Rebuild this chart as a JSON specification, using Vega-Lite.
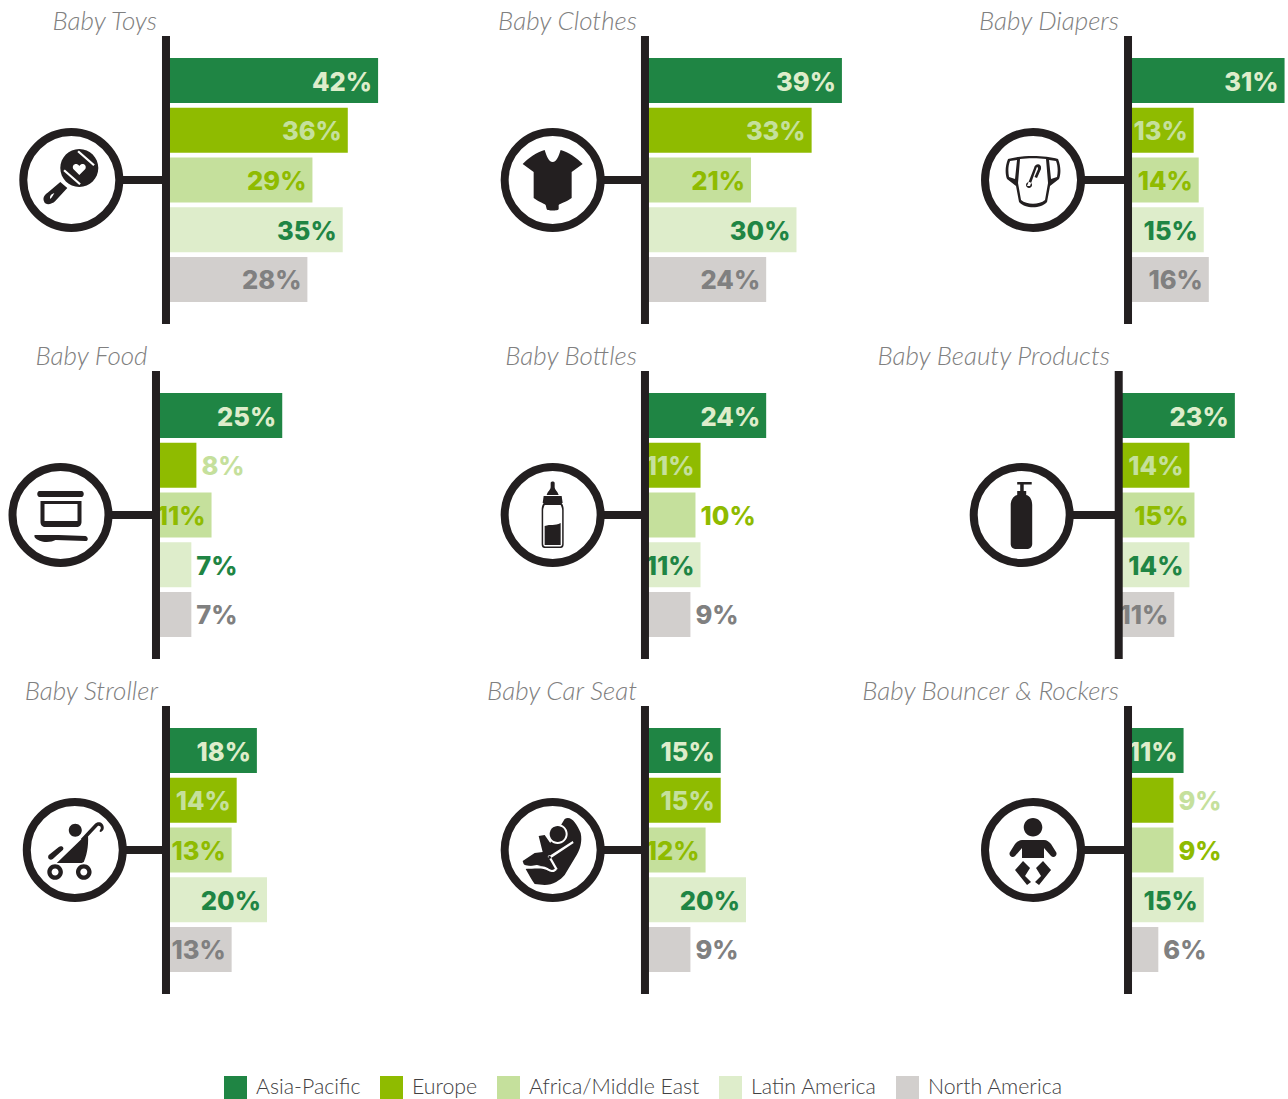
{"$schema":"https://vega.github.io/schema/vega-lite/v6.json","padding":{"left":-4,"top":9,"right":0,"bottom":0},"background":"white","bounds":"flush","align":"each","columns":3,"spacing":{"row":47,"column":0},
"config":{"axis":{"disable":true},"view":{"stroke":null},"scale":{"bandPaddingInner":0.0955,"bandPaddingOuter":0.4423},"range":{"category":["#1f8544","#8fbb00","#c5e09c","#deedcb","#d2cfcd"]},
"title":{"anchor":"start","font":"Lato","fontStyle":"italic","fontWeight":300,"fontSize":26,"color":"#808080","offset":-3},
"legend":{"orient":"none","legendX":224,"legendY":1040,"direction":"horizontal","columns":5,"symbolType":"square","symbolSize":529,"symbolStrokeWidth":0,"labelFont":"Lato","labelFontWeight":300,"labelFontSize":21.3,"labelColor":"#414042","labelOffset":9,"columnPadding":19,"labelLimit":300},
"style":{"lin":{"font":"Inter","fontWeight":800,"fontSize":25.5,"align":"right","dx":-6,"dy":2,"baseline":"middle"},"lout":{"font":"Inter","fontWeight":800,"fontSize":25.5,"align":"left","dx":5,"dy":2,"baseline":"middle"}}},
"data":{"values":[
{"product":"Baby Toys","region":"Asia-Pacific","value":0.42},{"product":"Baby Toys","region":"Europe","value":0.36},{"product":"Baby Toys","region":"Africa/Middle East","value":0.29},{"product":"Baby Toys","region":"Latin America","value":0.35},{"product":"Baby Toys","region":"North America","value":0.28},
{"product":"Baby Clothes","region":"Asia-Pacific","value":0.39},{"product":"Baby Clothes","region":"Europe","value":0.33},{"product":"Baby Clothes","region":"Africa/Middle East","value":0.21},{"product":"Baby Clothes","region":"Latin America","value":0.30},{"product":"Baby Clothes","region":"North America","value":0.24},
{"product":"Baby Diapers","region":"Asia-Pacific","value":0.31},{"product":"Baby Diapers","region":"Europe","value":0.13},{"product":"Baby Diapers","region":"Africa/Middle East","value":0.14},{"product":"Baby Diapers","region":"Latin America","value":0.15},{"product":"Baby Diapers","region":"North America","value":0.16},
{"product":"Baby Food","region":"Asia-Pacific","value":0.25},{"product":"Baby Food","region":"Europe","value":0.08},{"product":"Baby Food","region":"Africa/Middle East","value":0.11},{"product":"Baby Food","region":"Latin America","value":0.07},{"product":"Baby Food","region":"North America","value":0.07},
{"product":"Baby Bottles","region":"Asia-Pacific","value":0.24},{"product":"Baby Bottles","region":"Europe","value":0.11},{"product":"Baby Bottles","region":"Africa/Middle East","value":0.10},{"product":"Baby Bottles","region":"Latin America","value":0.11},{"product":"Baby Bottles","region":"North America","value":0.09},
{"product":"Baby Beauty Products","region":"Asia-Pacific","value":0.23},{"product":"Baby Beauty Products","region":"Europe","value":0.14},{"product":"Baby Beauty Products","region":"Africa/Middle East","value":0.15},{"product":"Baby Beauty Products","region":"Latin America","value":0.14},{"product":"Baby Beauty Products","region":"North America","value":0.11},
{"product":"Baby Stroller","region":"Asia-Pacific","value":0.18},{"product":"Baby Stroller","region":"Europe","value":0.14},{"product":"Baby Stroller","region":"Africa/Middle East","value":0.13},{"product":"Baby Stroller","region":"Latin America","value":0.20},{"product":"Baby Stroller","region":"North America","value":0.13},
{"product":"Baby Car Seat","region":"Asia-Pacific","value":0.15},{"product":"Baby Car Seat","region":"Europe","value":0.15},{"product":"Baby Car Seat","region":"Africa/Middle East","value":0.12},{"product":"Baby Car Seat","region":"Latin America","value":0.20},{"product":"Baby Car Seat","region":"North America","value":0.09},
{"product":"Baby Bouncer & Rockers","region":"Asia-Pacific","value":0.11},{"product":"Baby Bouncer & Rockers","region":"Europe","value":0.09},{"product":"Baby Bouncer & Rockers","region":"Africa/Middle East","value":0.09},{"product":"Baby Bouncer & Rockers","region":"Latin America","value":0.15},{"product":"Baby Bouncer & Rockers","region":"North America","value":0.06}
]},
"concat":[
{"title":{"text":"Baby Toys","dx":157,"align":"right"},"width":430,"height":288,"transform":[{"filter":"datum.product==='Baby Toys'"}],"layer":[
{"encoding":{"y":{"field":"region","type":"nominal","scale":{"domain":["Asia-Pacific","Europe","Africa/Middle East","Latin America","North America"]}}},"layer":[
{"transform":[{"filter":"datum.region==='Africa/Middle East'"}],"encoding":{"x":{"datum":-0.1875,"type":"quantitative"}},"layer":[
{"mark":{"type":"rule","color":"#231f20","strokeWidth":8},"encoding":{"x2":{"datum":0}}},
{"mark":{"type":"point","filled":true,"fill":"#fff","stroke":"#231f20","strokeWidth":8,"size":9216,"opacity":1}},
{"mark":{"type":"point","filled":true,"color":"#231f20","size":4,"opacity":1,"shape":"M-11,-12 a19,19 0 1,0 38,0 a19,19 0 1,0 -38,0 Z M-11,2 L-4,8 L-16,21 C-20,25 -26,25 -27,22 C-29,18 -27,15 -24,13 Z"}},
{"mark":{"type":"point","filled":true,"color":"#fff","size":4,"opacity":1,"shape":"M-8,-9 L8,5 L9.5,3.5 L-6.5,-10.5Z M6,-28 L22,-14 L23.5,-15.5 L7.5,-29.5Z M8,-5 L2,-11 C0,-15 5,-18 8,-14 C11,-18 16,-15 14,-11 Z M-21,19 C-22,16 -20,14 -17,13 C-18,15 -19,17 -21,19Z"}}]},
{"mark":"bar","encoding":{"x":{"field":"value","type":"quantitative","scale":{"domain":[-0.3287,0.5228],"nice":false}},"color":{"field":"region","type":"nominal","scale":{"domain":["Asia-Pacific","Europe","Africa/Middle East","Latin America","North America"]},"legend":{"title":null}}}},
{"transform":[{"filter":"datum.value>0.1"}],"mark":{"type":"text","style":"lin"},"encoding":{"x":{"field":"value","type":"quantitative"},"text":{"field":"value","type":"quantitative","format":".0%"},"fill":{"field":"region","type":"nominal","legend":null,"scale":{"domain":["Asia-Pacific","Europe","Africa/Middle East","Latin America","North America"],"range":["#deedcb","#c5e09c","#8fbb00","#1f8544","#808080"]}}}},
{"transform":[{"filter":"datum.value<=0.1"}],"mark":{"type":"text","style":"lout"},"encoding":{"x":{"field":"value","type":"quantitative"},"text":{"field":"value","type":"quantitative","format":".0%"},"fill":{"field":"region","type":"nominal","legend":null}}}]},
{"transform":[{"filter":"datum.region==='Europe'"}],"mark":{"type":"rule","color":"#231f20","strokeWidth":8},"encoding":{"x":{"datum":0,"type":"quantitative"}}}]},

{"title":{"text":"Baby Clothes","dx":207,"align":"right"},"width":470,"height":288,"transform":[{"filter":"datum.product==='Baby Clothes'"}],"layer":[
{"encoding":{"y":{"field":"region","type":"nominal","scale":{"domain":["Asia-Pacific","Europe","Africa/Middle East","Latin America","North America"]}}},"layer":[
{"transform":[{"filter":"datum.region==='Africa/Middle East'"}],"encoding":{"x":{"datum":-0.1828,"type":"quantitative"}},"layer":[
{"mark":{"type":"rule","color":"#231f20","strokeWidth":8},"encoding":{"x2":{"datum":0}}},
{"mark":{"type":"point","filled":true,"fill":"#fff","stroke":"#231f20","strokeWidth":8,"size":9216,"opacity":1}},
{"mark":{"type":"point","filled":true,"color":"#231f20","size":4,"opacity":1,"shape":"M-8,-30 C-6,-24 -4,-18 0,-18 C4,-18 6,-24 8,-30 C16,-28 24,-22 30,-16 L19,-8 L19,18 C14,22 8,23 6,25 L6,29 C6,31 -6,31 -6,29 L-7,25 C-9,23 -14,22 -19,18 L-19,-8 L-30,-16 C-24,-22 -16,-28 -8,-30Z"}}]},
{"mark":"bar","encoding":{"x":{"field":"value","type":"quantitative","scale":{"domain":[-0.4257,0.505],"nice":false}},"color":{"field":"region","type":"nominal"}}},
{"transform":[{"filter":"datum.value>0.1"}],"mark":{"type":"text","style":"lin"},"encoding":{"x":{"field":"value","type":"quantitative"},"text":{"field":"value","type":"quantitative","format":".0%"},"fill":{"field":"region","type":"nominal","legend":null}}},
{"transform":[{"filter":"datum.value<=0.1"}],"mark":{"type":"text","style":"lout"},"encoding":{"x":{"field":"value","type":"quantitative"},"text":{"field":"value","type":"quantitative","format":".0%"},"fill":{"field":"region","type":"nominal","legend":null}}}]},
{"transform":[{"filter":"datum.region==='Europe'"}],"mark":{"type":"rule","color":"#231f20","strokeWidth":8},"encoding":{"x":{"datum":0,"type":"quantitative"}}}]},

{"title":{"text":"Baby Diapers","dx":219,"align":"right"},"width":388,"height":288,"transform":[{"filter":"datum.product==='Baby Diapers'"}],"layer":[
{"encoding":{"y":{"field":"region","type":"nominal","scale":{"domain":["Asia-Pacific","Europe","Africa/Middle East","Latin America","North America"]}}},"layer":[
{"transform":[{"filter":"datum.region==='Africa/Middle East'"}],"encoding":{"x":{"datum":-0.1881,"type":"quantitative"}},"layer":[
{"mark":{"type":"rule","color":"#231f20","strokeWidth":8},"encoding":{"x2":{"datum":0}}},
{"mark":{"type":"point","filled":true,"fill":"#fff","stroke":"#231f20","strokeWidth":8,"size":9216,"opacity":1}},
{"mark":{"type":"point","filled":true,"color":"#231f20","size":4,"opacity":1,"shape":"M-25,-21 C-12,-25 12,-25 25,-21 C28,-14 28,-6 26,-1 L17,6 L14,22 C8,29 -8,29 -14,22 L-17,6 L-26,-1 C-28,-6 -28,-14 -25,-21Z"}},
{"mark":{"type":"point","filled":true,"color":"#fff","size":4,"opacity":1,"shape":"M-23,-19 L-16,-20 L-18,-1 L-24,-3 C-25,-8 -25,-14 -23,-19Z M23,-19 L16,-20 L18,-1 L24,-3 C25,-8 25,-14 23,-19Z M-13,-21 C-5,-22 5,-22 13,-21 L15,3 L12,20 C6,25 -6,25 -12,20 L-15,3Z"}},
{"mark":{"type":"point","filled":true,"color":"#231f20","size":4,"opacity":1,"shape":"M-6,6 L1,-12 C2,-17 9,-17 8,-11 L4,-2 L1.5,-3 L5,-11 C5,-13 4,-14 3.5,-12 L-3,6Z M-7,5 a3,3 0 1,0 6,0 a3,3 0 1,0 -6,0Z"}}]},
{"mark":"bar","encoding":{"x":{"field":"value","type":"quantitative","scale":{"domain":[-0.4515,0.3168],"nice":false}},"color":{"field":"region","type":"nominal"}}},
{"transform":[{"filter":"datum.value>0.1"}],"mark":{"type":"text","style":"lin"},"encoding":{"x":{"field":"value","type":"quantitative"},"text":{"field":"value","type":"quantitative","format":".0%"},"fill":{"field":"region","type":"nominal","legend":null}}},
{"transform":[{"filter":"datum.value<=0.1"}],"mark":{"type":"text","style":"lout"},"encoding":{"x":{"field":"value","type":"quantitative"},"text":{"field":"value","type":"quantitative","format":".0%"},"fill":{"field":"region","type":"nominal","legend":null}}}]},
{"transform":[{"filter":"datum.region==='Europe'"}],"mark":{"type":"rule","color":"#231f20","strokeWidth":8},"encoding":{"x":{"datum":0,"type":"quantitative"}}}]},

{"title":{"text":"Baby Food","dx":151,"align":"right"},"width":430,"height":288,"transform":[{"filter":"datum.product==='Baby Food'"}],"layer":[
{"encoding":{"y":{"field":"region","type":"nominal","scale":{"domain":["Asia-Pacific","Europe","Africa/Middle East","Latin America","North America"]}}},"layer":[
{"transform":[{"filter":"datum.region==='Africa/Middle East'"}],"encoding":{"x":{"datum":-0.1891,"type":"quantitative"}},"layer":[
{"mark":{"type":"rule","color":"#231f20","strokeWidth":8},"encoding":{"x2":{"datum":0}}},
{"mark":{"type":"point","filled":true,"fill":"#fff","stroke":"#231f20","strokeWidth":8,"size":9216,"opacity":1}},
{"mark":{"type":"point","filled":true,"color":"#231f20","size":4,"opacity":1,"shape":"M-21,-24 L21,-24 C24,-24 24,-18 21,-18 L-21,-18 C-24,-18 -24,-24 -21,-24Z M-20,-14 L21,-14 L21,7 C21,10 19,12 16,12 L-15,12 C-18,12 -20,10 -20,7Z M-26,20 C-20,20 -10,20 -2,20 L25,21 C28,22 28,26 25,26 L-5,25 C-10,28 -22,28 -26,22Z"}},
{"mark":{"type":"point","filled":true,"color":"#fff","size":4,"opacity":1,"shape":"M-16,-11 L17,-11 L17,6 L-16,6Z"}}]},
{"mark":"bar","encoding":{"x":{"field":"value","type":"quantitative","scale":{"domain":[-0.3089,0.5426],"nice":false}},"color":{"field":"region","type":"nominal"}}},
{"transform":[{"filter":"datum.value>0.1"}],"mark":{"type":"text","style":"lin"},"encoding":{"x":{"field":"value","type":"quantitative"},"text":{"field":"value","type":"quantitative","format":".0%"},"fill":{"field":"region","type":"nominal","legend":null}}},
{"transform":[{"filter":"datum.value<=0.1"}],"mark":{"type":"text","style":"lout"},"encoding":{"x":{"field":"value","type":"quantitative"},"text":{"field":"value","type":"quantitative","format":".0%"},"fill":{"field":"region","type":"nominal","legend":null}}}]},
{"transform":[{"filter":"datum.region==='Europe'"}],"mark":{"type":"rule","color":"#231f20","strokeWidth":8},"encoding":{"x":{"datum":0,"type":"quantitative"}}}]},

{"title":{"text":"Baby Bottles","dx":207,"align":"right"},"width":470,"height":288,"transform":[{"filter":"datum.product==='Baby Bottles'"}],"layer":[
{"encoding":{"y":{"field":"region","type":"nominal","scale":{"domain":["Asia-Pacific","Europe","Africa/Middle East","Latin America","North America"]}}},"layer":[
{"transform":[{"filter":"datum.region==='Africa/Middle East'"}],"encoding":{"x":{"datum":-0.1828,"type":"quantitative"}},"layer":[
{"mark":{"type":"rule","color":"#231f20","strokeWidth":8},"encoding":{"x2":{"datum":0}}},
{"mark":{"type":"point","filled":true,"fill":"#fff","stroke":"#231f20","strokeWidth":8,"size":9216,"opacity":1}},
{"mark":{"type":"point","filled":true,"color":"#231f20","size":4,"opacity":1,"shape":"M-2,-32 C-2,-34 2,-34 2,-32 L2,-28 C2,-25 5,-24 6,-20 L-6,-20 C-5,-24 -2,-25 -2,-28Z M-9,-19 L9,-19 L10,-12 L-10,-12Z M-9,-12 L9,-12 C11,-9 11,-7 11,-5 L11,29 C11,33 9,33 7,33 L-7,33 C-9,33 -11,33 -11,29 L-11,-5 C-11,-7 -11,-9 -9,-12Z"}},
{"mark":{"type":"point","filled":true,"color":"#fff","size":4,"opacity":1,"shape":"M-8,-10 L8,-10 C9,-8 9.5,-6 9.5,-5 L9.5,29 C9.5,31 8,31.5 7,31.5 L-7,31.5 C-8,31.5 -9.5,31 -9.5,29 L-9.5,-5 C-9.5,-6 -9,-8 -8,-10Z"}},
{"mark":{"type":"point","filled":true,"color":"#231f20","size":4,"opacity":1,"shape":"M-8,11 C-2,9 2,11 8,8 L8,30 L-8,30Z"}}]},
{"mark":"bar","encoding":{"x":{"field":"value","type":"quantitative","scale":{"domain":[-0.4257,0.505],"nice":false}},"color":{"field":"region","type":"nominal"}}},
{"transform":[{"filter":"datum.value>0.1"}],"mark":{"type":"text","style":"lin"},"encoding":{"x":{"field":"value","type":"quantitative"},"text":{"field":"value","type":"quantitative","format":".0%"},"fill":{"field":"region","type":"nominal","legend":null}}},
{"transform":[{"filter":"datum.value<=0.1"}],"mark":{"type":"text","style":"lout"},"encoding":{"x":{"field":"value","type":"quantitative"},"text":{"field":"value","type":"quantitative","format":".0%"},"fill":{"field":"region","type":"nominal","legend":null}}}]},
{"transform":[{"filter":"datum.region==='Europe'"}],"mark":{"type":"rule","color":"#231f20","strokeWidth":8},"encoding":{"x":{"datum":0,"type":"quantitative"}}}]},

{"title":{"text":"Baby Beauty Products","dx":210,"align":"right"},"width":388,"height":288,"transform":[{"filter":"datum.product==='Baby Beauty Products'"}],"layer":[
{"encoding":{"y":{"field":"region","type":"nominal","scale":{"domain":["Asia-Pacific","Europe","Africa/Middle East","Latin America","North America"]}}},"layer":[
{"transform":[{"filter":"datum.region==='Africa/Middle East'"}],"encoding":{"x":{"datum":-0.1921,"type":"quantitative"}},"layer":[
{"mark":{"type":"rule","color":"#231f20","strokeWidth":8},"encoding":{"x2":{"datum":0}}},
{"mark":{"type":"point","filled":true,"fill":"#fff","stroke":"#231f20","strokeWidth":8,"size":9216,"opacity":1}},
{"mark":{"type":"point","filled":true,"color":"#231f20","size":4,"opacity":1,"shape":"M-4.5,-33 L10,-33 L10,-30.5 L2,-30.5 L2,-24 L4.5,-24 L4.5,-20 C9,-19 10.5,-14 10.5,-10 L10.5,29 C10.5,32 8,34 5,34 L-5,34 C-9,34 -11,32 -11,29 L-11,-10 C-11,-14 -9,-19 -4.5,-20 L-4.5,-24 L-1.5,-24 L-1.5,-30.5 L-4.5,-30.5Z"}}]},
{"mark":"bar","encoding":{"x":{"field":"value","type":"quantitative","scale":{"domain":[-0.4331,0.3352],"nice":false}},"color":{"field":"region","type":"nominal"}}},
{"transform":[{"filter":"datum.value>0.1"}],"mark":{"type":"text","style":"lin"},"encoding":{"x":{"field":"value","type":"quantitative"},"text":{"field":"value","type":"quantitative","format":".0%"},"fill":{"field":"region","type":"nominal","legend":null}}},
{"transform":[{"filter":"datum.value<=0.1"}],"mark":{"type":"text","style":"lout"},"encoding":{"x":{"field":"value","type":"quantitative"},"text":{"field":"value","type":"quantitative","format":".0%"},"fill":{"field":"region","type":"nominal","legend":null}}}]},
{"transform":[{"filter":"datum.region==='Europe'"}],"mark":{"type":"rule","color":"#231f20","strokeWidth":8},"encoding":{"x":{"datum":0,"type":"quantitative"}}}]},

{"title":{"text":"Baby Stroller","dx":158,"align":"right"},"width":430,"height":288,"transform":[{"filter":"datum.product==='Baby Stroller'"}],"layer":[
{"encoding":{"y":{"field":"region","type":"nominal","scale":{"domain":["Asia-Pacific","Europe","Africa/Middle East","Latin America","North America"]}}},"layer":[
{"transform":[{"filter":"datum.region==='Africa/Middle East'"}],"encoding":{"x":{"datum":-0.1806,"type":"quantitative"}},"layer":[
{"mark":{"type":"rule","color":"#231f20","strokeWidth":8},"encoding":{"x2":{"datum":0}}},
{"mark":{"type":"point","filled":true,"fill":"#fff","stroke":"#231f20","strokeWidth":8,"size":9216,"opacity":1}},
{"mark":{"type":"point","filled":true,"color":"#231f20","size":4,"opacity":1,"shape":"M-27.5,22 a7.8,7.8 0 1,0 15.6,0 a7.8,7.8 0 1,0 -15.6,0Z M1.2,22 a7.8,7.8 0 1,0 15.6,0 a7.8,7.8 0 1,0 -15.6,0Z M-18,13 L13,-17 C14,-8 13,3 9,12 L7,13Z M6,-11 L20,-26 C23,-29 29,-28 29,-22 C29,-20 27,-18 25,-18 L25,-20 C27,-21 26,-25 23,-24 L9,-9Z M-6,-19.7 a6.5,6.5 0 1,0 13,0 a6.5,6.5 0 1,0 -13,0Z M-26,5 L-16,-3 C-13,-5 -10,-2 -12,0 L-22,9 C-25,11 -28,8 -26,5Z"}},
{"mark":{"type":"point","filled":true,"color":"#fff","size":4,"opacity":1,"shape":"M-23.2,22 a3.5,3.5 0 1,0 7,0 a3.5,3.5 0 1,0 -7,0Z M5.5,22 a3.5,3.5 0 1,0 7,0 a3.5,3.5 0 1,0 -7,0Z"}}]},
{"mark":"bar","encoding":{"x":{"field":"value","type":"quantitative","scale":{"domain":[-0.3287,0.5228],"nice":false}},"color":{"field":"region","type":"nominal"}}},
{"transform":[{"filter":"datum.value>0.1"}],"mark":{"type":"text","style":"lin"},"encoding":{"x":{"field":"value","type":"quantitative"},"text":{"field":"value","type":"quantitative","format":".0%"},"fill":{"field":"region","type":"nominal","legend":null}}},
{"transform":[{"filter":"datum.value<=0.1"}],"mark":{"type":"text","style":"lout"},"encoding":{"x":{"field":"value","type":"quantitative"},"text":{"field":"value","type":"quantitative","format":".0%"},"fill":{"field":"region","type":"nominal","legend":null}}}]},
{"transform":[{"filter":"datum.region==='Europe'"}],"mark":{"type":"rule","color":"#231f20","strokeWidth":8},"encoding":{"x":{"datum":0,"type":"quantitative"}}}]},

{"title":{"text":"Baby Car Seat","dx":207,"align":"right"},"width":470,"height":288,"transform":[{"filter":"datum.product==='Baby Car Seat'"}],"layer":[
{"encoding":{"y":{"field":"region","type":"nominal","scale":{"domain":["Asia-Pacific","Europe","Africa/Middle East","Latin America","North America"]}}},"layer":[
{"transform":[{"filter":"datum.region==='Africa/Middle East'"}],"encoding":{"x":{"datum":-0.1828,"type":"quantitative"}},"layer":[
{"mark":{"type":"rule","color":"#231f20","strokeWidth":8},"encoding":{"x2":{"datum":0}}},
{"mark":{"type":"point","filled":true,"fill":"#fff","stroke":"#231f20","strokeWidth":8,"size":9216,"opacity":1}},
{"mark":{"type":"point","filled":true,"color":"#231f20","size":4,"opacity":1,"shape":"M12,-31 C18,-35 24,-27 28,-17 C30,-8 27,0 24,5 L12,25 C8,30 0,35 -8,35 L-18,34 C-21,30 -24,24 -27,19 L-8,14 L-2,-8 Z M-14,-14 L-8,-15 L-1,-5 L14,-3 L1,20 L-8,15 L-16,15 L-28,17 L-30,11 L-18,3 L-10,2 Z"}},
{"mark":{"type":"point","filled":true,"color":"#fff","size":4,"opacity":1,"shape":"M-5,-16 a10,10 0 1,0 20,0 a10,10 0 1,0 -20,0Z M-30,17 C-22,21 -12,16 -4,21 C0,23 2,22 4,20 L3,18 C0,21 -2,20 -5,18 C-12,14 -22,18 -30,14 Z M-5,7 L20,-9 L21,-7 L-3,9 Z M-5,6 L3,20 L5,19 L-3,5 Z"}},
{"mark":{"type":"point","filled":true,"color":"#231f20","size":4,"opacity":1,"shape":"M-3,-16 a8,8 0 1,0 16,0 a8,8 0 1,0 -16,0Z"}}]},
{"mark":"bar","encoding":{"x":{"field":"value","type":"quantitative","scale":{"domain":[-0.4257,0.505],"nice":false}},"color":{"field":"region","type":"nominal"}}},
{"transform":[{"filter":"datum.value>0.1"}],"mark":{"type":"text","style":"lin"},"encoding":{"x":{"field":"value","type":"quantitative"},"text":{"field":"value","type":"quantitative","format":".0%"},"fill":{"field":"region","type":"nominal","legend":null}}},
{"transform":[{"filter":"datum.value<=0.1"}],"mark":{"type":"text","style":"lout"},"encoding":{"x":{"field":"value","type":"quantitative"},"text":{"field":"value","type":"quantitative","format":".0%"},"fill":{"field":"region","type":"nominal","legend":null}}}]},
{"transform":[{"filter":"datum.region==='Europe'"}],"mark":{"type":"rule","color":"#231f20","strokeWidth":8},"encoding":{"x":{"datum":0,"type":"quantitative"}}}]},

{"title":{"text":"Baby Bouncer & Rockers","dx":219,"align":"right"},"width":388,"height":288,"transform":[{"filter":"datum.product==='Baby Bouncer & Rockers'"}],"layer":[
{"encoding":{"y":{"field":"region","type":"nominal","scale":{"domain":["Asia-Pacific","Europe","Africa/Middle East","Latin America","North America"]}}},"layer":[
{"transform":[{"filter":"datum.region==='Africa/Middle East'"}],"encoding":{"x":{"datum":-0.1881,"type":"quantitative"}},"layer":[
{"mark":{"type":"rule","color":"#231f20","strokeWidth":8},"encoding":{"x2":{"datum":0}}},
{"mark":{"type":"point","filled":true,"fill":"#fff","stroke":"#231f20","strokeWidth":8,"size":9216,"opacity":1}},
{"mark":{"type":"point","filled":true,"color":"#231f20","size":4,"opacity":1,"shape":"M-9.3,-22.7 a9.3,9.3 0 1,0 18.6,0 a9.3,9.3 0 1,0 -18.6,0Z M-11,-10 L11,-10 C14,-10 16,-8 18,-6 L23,2 C25,5 21,9 18,6 L11,-2 L11,8 L-11,8 L-11,-2 L-18,6 C-21,9 -25,5 -23,2 L-18,-6 C-16,-8 -14,-10 -11,-10Z M-10,11 L-18,20 L-6,35 L-2,32 L-8,26 L-3,18Z M10,11 L18,20 L6,35 L2,32 L8,26 L3,18Z"}}]},
{"mark":"bar","encoding":{"x":{"field":"value","type":"quantitative","scale":{"domain":[-0.4515,0.3168],"nice":false}},"color":{"field":"region","type":"nominal"}}},
{"transform":[{"filter":"datum.value>0.1"}],"mark":{"type":"text","style":"lin"},"encoding":{"x":{"field":"value","type":"quantitative"},"text":{"field":"value","type":"quantitative","format":".0%"},"fill":{"field":"region","type":"nominal","legend":null}}},
{"transform":[{"filter":"datum.value<=0.1"}],"mark":{"type":"text","style":"lout"},"encoding":{"x":{"field":"value","type":"quantitative"},"text":{"field":"value","type":"quantitative","format":".0%"},"fill":{"field":"region","type":"nominal","legend":null}}}]},
{"transform":[{"filter":"datum.region==='Europe'"}],"mark":{"type":"rule","color":"#231f20","strokeWidth":8},"encoding":{"x":{"datum":0,"type":"quantitative"}}}]}
]}
